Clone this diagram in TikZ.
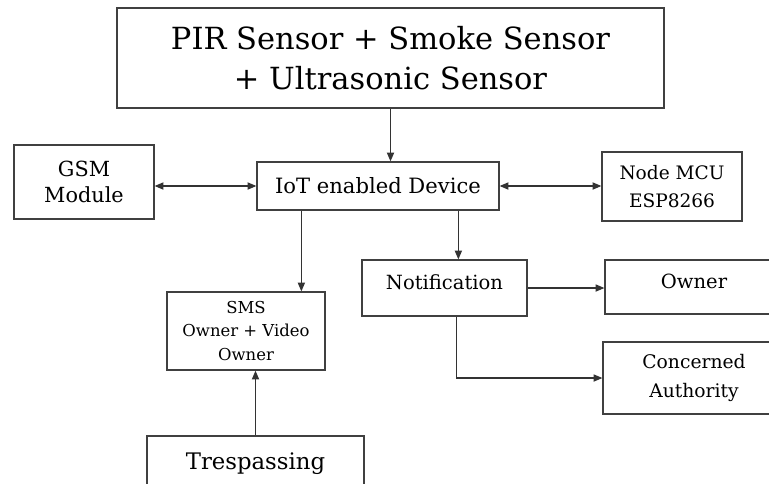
\documentclass[tikz,border=0pt]{standalone}
\usepackage{fontspec}
\setmainfont{DejaVu Serif}
\usetikzlibrary{arrows.meta,calc}

\tikzset{
  blk/.style={draw=black!75, line width=0.9pt, align=center, inner sep=2pt},
  arr/.style={draw=black!80, line width=0.8pt, -{Triangle[length=2.2mm,width=1.8mm]}},
  darr/.style={arr, {Triangle[length=2.2mm,width=1.8mm]}-{Triangle[length=2.2mm,width=1.8mm]}}
}

\begin{document}
\begin{tikzpicture}[x=0.25mm,y=-0.25mm]
\useasboundingbox (0,0) rectangle (769,483);

% sensors on top
\node [blk, minimum width=547*0.25mm, minimum height=100*0.25mm,
       font=\fontsize{21.7}{28.5}\selectfont] (sens) at (390.5,58)
       {PIR Sensor + Smoke Sensor\\+ Ultrasonic Sensor};

% middle row
\node [blk, minimum width=242*0.25mm, minimum height=48*0.25mm,
       font=\fontsize{15}{18}\selectfont] (iot) at (378,186) {IoT enabled Device};
\node [blk, minimum width=140*0.25mm, minimum height=74*0.25mm,
       font=\fontsize{14.8}{18}\selectfont] (gsm) at (84,182) {GSM\\Module};
\node [blk, minimum width=140*0.25mm, minimum height=69*0.25mm,
       font=\fontsize{13.2}{20}\selectfont] (mcu) at (672,186.5) {Node MCU\\ESP8266};

% lower part
\node [blk, minimum width=158*0.25mm, minimum height=78*0.25mm,
       font=\fontsize{11.7}{16.6}\selectfont] (sms) at (246,331) {SMS\\Owner + Video\\Owner};
\node [blk, minimum width=217*0.25mm, minimum height=56*0.25mm,
       font=\fontsize{16.2}{19}\selectfont] (tres) at (255.5,464) {Trespassing};
\node [blk, minimum width=165*0.25mm, minimum height=56*0.25mm, text depth=3mm,
       font=\fontsize{13.9}{18}\selectfont] (notif) at (444.5,288) {Notification};
\node [blk, minimum width=178*0.25mm, minimum height=54*0.25mm, text depth=3mm,
       font=\fontsize{13.9}{18}\selectfont] (own) at (694,287) {Owner};
\node [blk, minimum width=182*0.25mm, minimum height=72*0.25mm,
       font=\fontsize{13.3}{21}\selectfont] (auth) at (694,378) {Concerned\\Authority};

% drop points under the device box
\coordinate (iotl) at ($(iot.south west)+(45,0)$);
\coordinate (iotr) at ($(iot.south west)+(202,0)$);
\coordinate (notb) at ($(notif.south)+(12,0)$);

% connections
\draw [arr] (sens.south) -- (sens.south |- iot.north);
\draw [darr] (gsm.east |- iot.west) -- (iot.west);
\draw [darr] (iot.east) -- (iot.east -| mcu.west);
\draw [arr] (iotl) -- (iotl |- sms.north);
\draw [arr] (iotr) -- (iotr |- notif.north);
\draw [arr] (tres.north) -- (tres.north |- sms.south);
\draw [arr] (notif.east) -- (notif.east -| own.west);
\draw [arr] (notb) |- (auth.west);

\end{tikzpicture}
\end{document}
